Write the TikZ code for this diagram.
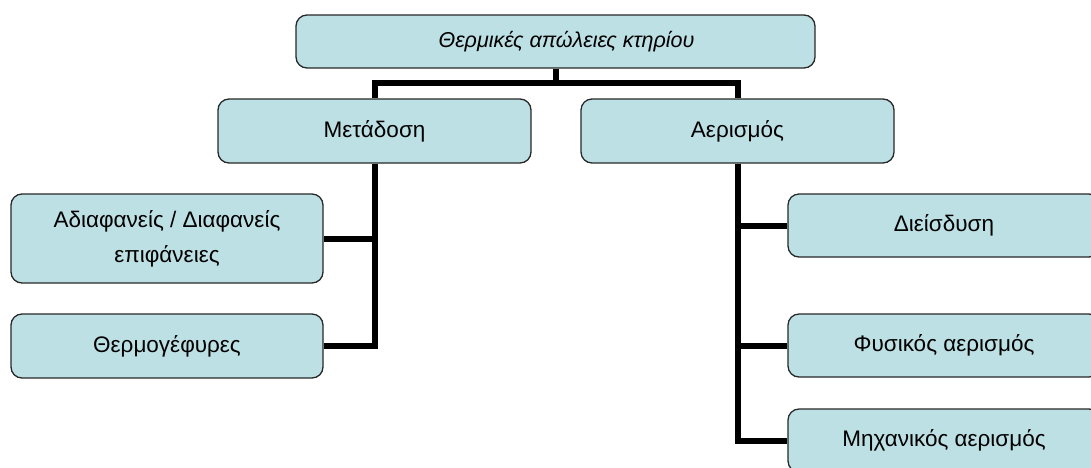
\documentclass[tikz,border=0pt]{standalone}
\usepackage{fontspec}
\setmainfont{Liberation Sans}
\definecolor{boxfill}{RGB}{188,224,228}
\definecolor{boxline}{RGB}{40,40,40}
\tikzset{
  box/.style={draw=boxline, line width=1.3pt, fill=boxfill, rounded corners=11pt,
    inner sep=0pt, align=center, font=\fontsize{22.5}{35}\selectfont},
  conn/.style={line width=6pt, draw=black, line join=miter, line cap=butt},
}
\begin{document}
\begin{tikzpicture}[x=1pt,y=-1pt]
\useasboundingbox (0,0) rectangle (1091,467);
\clip (0,0) rectangle (1091,467);
\node[box, minimum width=519pt, minimum height=53pt, font=\fontsize{21.5}{30}\selectfont] (top) at (555.5,41.5) {\hspace*{22pt}\itshape Θερμικές απώλειες κτηρίου};
\node[box, minimum width=313pt, minimum height=64pt] (met) at (374.5,131) {Μετάδοση};
\node[box, minimum width=313pt, minimum height=64pt] (aer) at (737.5,131) {Αερισμός};
\node[box, minimum width=312pt, minimum height=89pt] (adi) at (167,238.5) {Αδιαφανείς / Διαφανείς\\επιφάνειες};
\node[box, minimum width=312pt, minimum height=64pt] (the) at (167,346) {Θερμογέφυρες};
\node[box, minimum width=312pt, minimum height=63pt] (die) at (944,225.5) {Διείσδυση};
\node[box, minimum width=312pt, minimum height=63pt] (fys) at (944,345.5) {Φυσικός αερισμός};
\node[box, minimum width=312pt, minimum height=63pt] (mic) at (944,440.5) {Μηχανικός αερισμός};
\coordinate (bar) at (0,83);
\draw[conn] (top.south) -- (top.south |- bar);
\draw[conn] (met.north) -- (met.north |- bar) -- (aer.north |- bar) -- (aer.north);
\draw[conn] (met.south) |- (the.east);
\draw[conn] (adi.east) -- (adi.east -| met.south);
\draw[conn] (aer.south) |- (mic.west);
\draw[conn] (die.west) -- (die.west -| aer.south);
\draw[conn] (fys.west) -- (fys.west -| aer.south);
\end{tikzpicture}
\end{document}
